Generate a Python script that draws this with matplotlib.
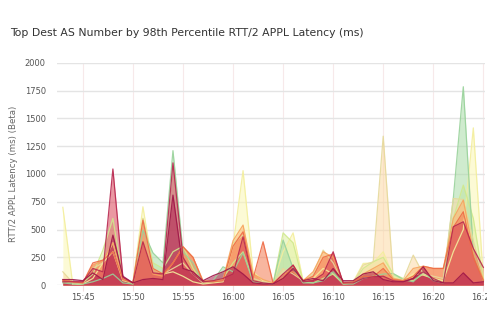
import matplotlib
matplotlib.use("Agg")
import matplotlib.pyplot as plt
import matplotlib.dates as mdates
from matplotlib.patches import Rectangle
import pandas as pd

# One sample per minute, 15:43 .. 16:25
times = pd.date_range("2024-01-01 15:43", "2024-01-01 16:25", freq="min")

yellow = [700, 0, 10, 60, 200, 300, 40, 20, 705, 150, 100, 120, 80, 30, 10, 20, 30, 350, 1030, 120, 40,
          20, 300, 470, 40, 60, 150, 100, 20, 30, 195, 200, 300, 80, 40, 100, 90, 60, 40, 300, 500, 1415, 60]
light_green = [30, 20, 20, 100, 315, 600, 50, 10, 600, 200, 150, 300, 350, 150, 20, 30, 60, 200, 300, 40, 20,
               10, 470, 380, 30, 20, 60, 100, 10, 20, 150, 210, 250, 100, 60, 40, 100, 60, 20, 600, 900, 600, 50]
green = [20, 10, 10, 30, 60, 100, 20, 10, 495, 290, 200, 1210, 300, 200, 20, 40, 165, 120, 290, 30, 20,
         10, 405, 150, 20, 20, 40, 120, 10, 10, 60, 80, 100, 105, 50, 30, 120, 40, 20, 780, 1785, 300, 40]
peach = [120, 20, 20, 150, 200, 380, 50, 20, 600, 150, 100, 150, 200, 100, 20, 30, 40, 380, 450, 60, 30,
         20, 150, 100, 40, 100, 315, 200, 20, 20, 180, 210, 1340, 60, 50, 270, 100, 80, 60, 780, 770, 400, 50]
light_orange = [50, 30, 20, 180, 220, 380, 60, 20, 400, 100, 80, 200, 345, 250, 40, 40, 50, 400, 540, 100, 50,
                20, 100, 120, 40, 120, 300, 250, 20, 20, 100, 150, 200, 60, 40, 150, 170, 150, 150, 600, 765, 300, 50]
orange = [40, 30, 20, 200, 225, 300, 50, 20, 585, 150, 100, 200, 345, 250, 30, 30, 40, 350, 480, 60, 390,
          20, 60, 180, 40, 80, 250, 280, 20, 30, 80, 75, 150, 50, 40, 80, 170, 150, 150, 520, 660, 250, 40]
red = [30, 30, 30, 150, 120, 1045, 70, 20, 390, 110, 100, 1100, 250, 100, 30, 40, 60, 100, 435, 40, 20,
       10, 100, 180, 30, 40, 100, 300, 20, 20, 60, 75, 80, 40, 30, 60, 120, 60, 20, 525, 570, 330, 160]
crimson = [50, 50, 40, 110, 50, 450, 80, 20, 50, 60, 50, 810, 150, 120, 40, 85, 120, 165, 100, 20, 10,
           10, 60, 150, 40, 60, 40, 150, 40, 40, 100, 120, 50, 30, 30, 60, 165, 40, 20, 20, 110, 20, 30]

series = [
    (yellow, "#fbf7b3", "#f3ee9c"),
    (light_green, "#dcf0a0", "#cfe98c"),
    (green, "#a9dba6", "#98d29a"),
    (peach, "#fdd9a4", "#e6d99a"),
    (light_orange, "#fcb56e", "#f7a35e"),
    (orange, "#f47a50", "#ee6a45"),
    (red, "#da4456", "#b8274f"),
    (crimson, "#b01d4e", "#a01748"),
]

yticks = [0, 250, 500, 750, 1000, 1250, 1500, 1750, 2000]

fig = plt.figure(figsize=(5.0, 3.24), dpi=100)
ax = fig.add_axes([0.114, 0.12, 0.856, 0.686])

for vals, fill_col, line_col in series:
    ax.fill_between(times, 0, vals, color=fill_col, alpha=0.55, linewidth=0, zorder=2)
    ax.plot(times, vals, color=line_col, linewidth=0.9, alpha=0.9, zorder=3)

ax.set_ylim(0, 2000)
ax.set_yticks(yticks)
ax.set_xlim(pd.Timestamp("2024-01-01 15:42:25"), pd.Timestamp("2024-01-01 16:25:10"))
ax.xaxis.set_major_locator(mdates.MinuteLocator(byminute=range(0, 60, 5)))
ax.xaxis.set_major_formatter(mdates.DateFormatter("%H:%M"))

for s in ax.spines.values():
    s.set_visible(False)
ax.grid(axis="y", color="#e4e4e4", linewidth=1.0, zorder=0)
ax.grid(axis="x", color="#f7e9ea", linewidth=0.8, zorder=0)
ax.tick_params(axis="y", length=0, labelsize=6, labelcolor="#555555", pad=8)
ax.tick_params(axis="x", length=4, color="#f2dfe1", labelsize=6, labelcolor="#555555", pad=2)

ax.set_ylabel("RTT/2 APPL Latency (ms) (Beta)", fontsize=6.2, color="#666666", labelpad=5)

fig.text(0.02, 0.897, "Top Dest AS Number by 98th Percentile RTT/2 APPL Latency (ms)",
         fontsize=7.8, color="#333333", ha="left", va="center")

# panel edge: everything right of it is hidden
fig.patches.append(Rectangle((0.974, 0.0), 0.03, 0.2, transform=fig.transFigure,
                             facecolor="white", edgecolor="none", zorder=10))

fig.savefig("out.png", dpi=100, facecolor="white")
